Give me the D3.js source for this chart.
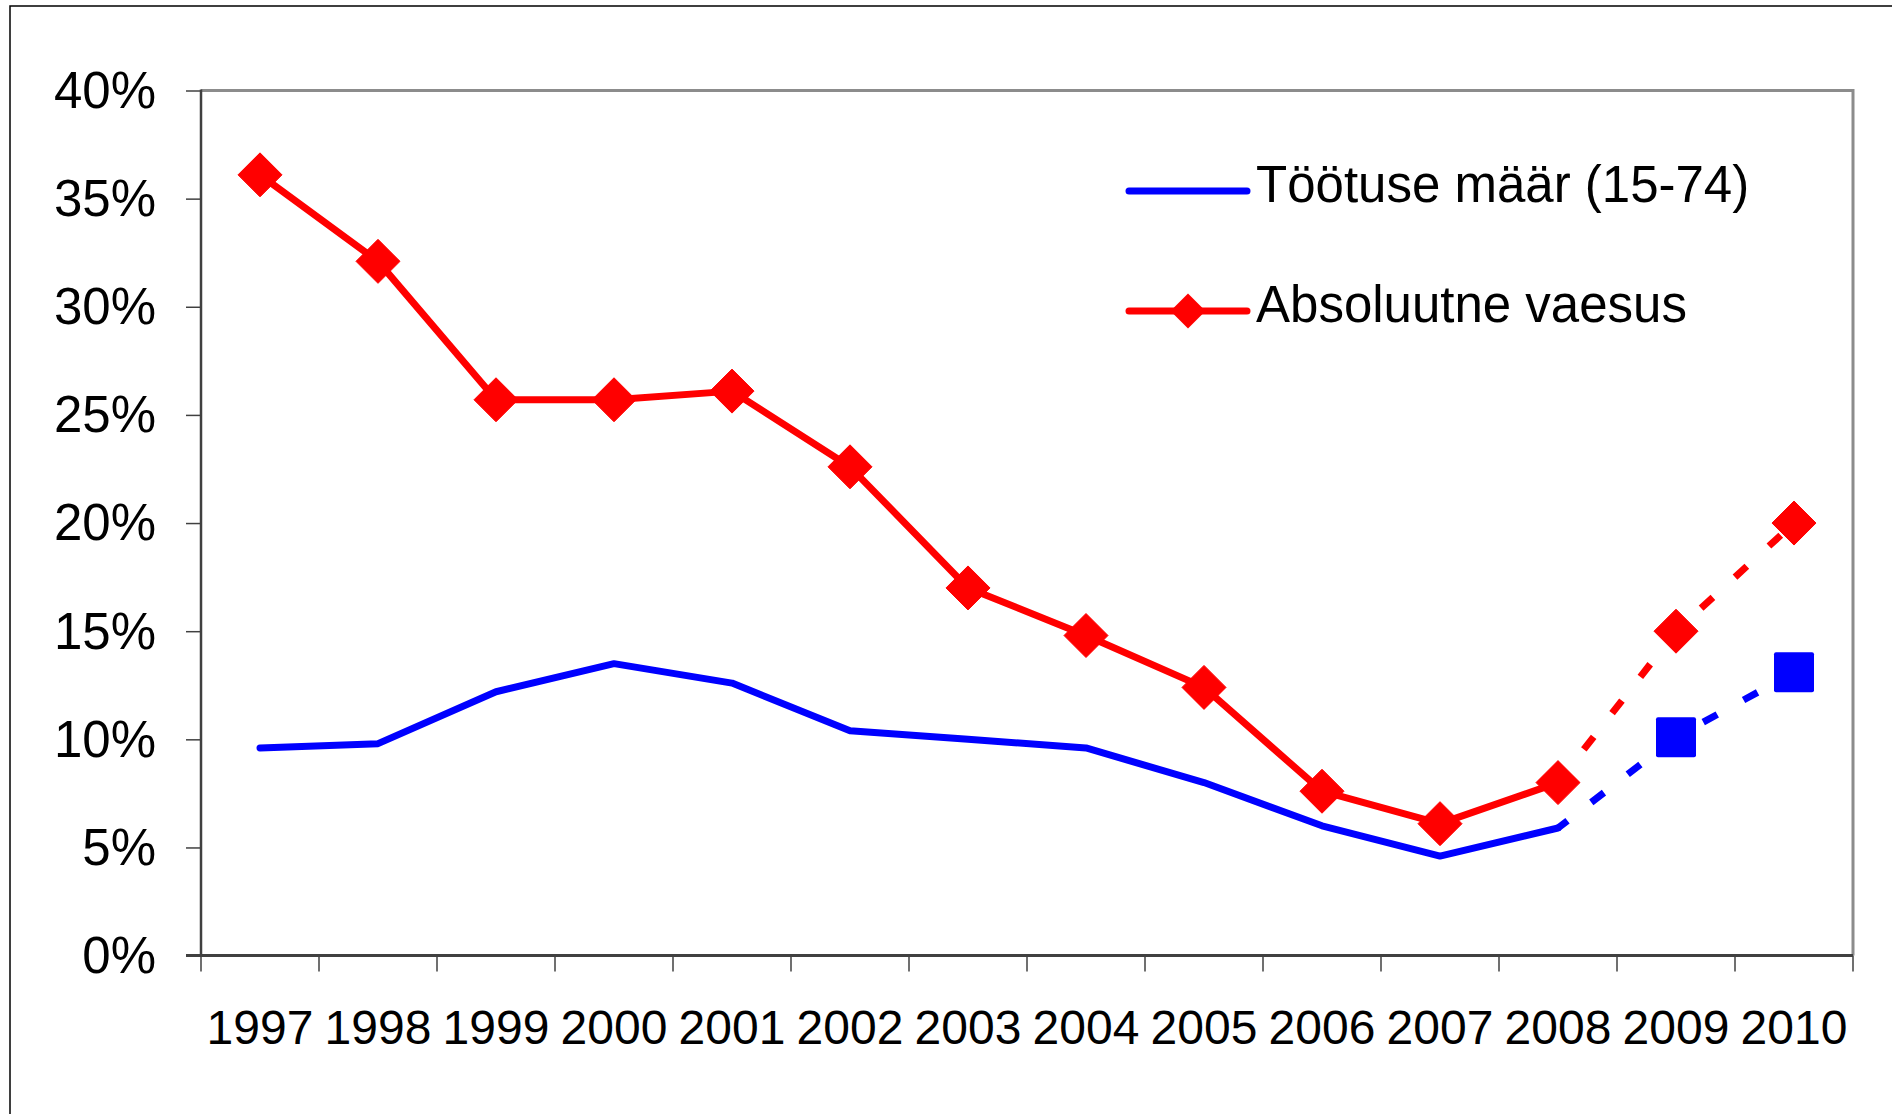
<!DOCTYPE html>
<html>
<head>
  <meta charset="utf-8">
  <script src="https://d3js.org/d3.v7.min.js"></script>
  <style>
    body {
      margin: 0;
      background-color: #ffffff;
      font-family: "Liberation Sans", Arial, sans-serif;
    }
  </style>
</head>
<body>
  <script type="text/javascript">
    // chart values
    var years = [1997, 1998, 1999, 2000, 2001, 2002, 2003, 2004, 2005, 2006, 2007, 2008, 2009, 2010];
    var unemployment = [9.6, 9.8, 12.2, 13.5, 12.6, 10.4, 10.0, 9.6, 8.0, 6.0, 4.6, 5.9, 10.1, 13.1];
    var poverty = [36.1, 32.1, 25.7, 25.7, 26.1, 22.6, 17.0, 14.8, 12.4, 7.6, 6.1, 8.0, 15.0, 20.0];
    var forecastFrom = 2008;   // from this year on the lines are dashed (prognoos)
    var yTicks = [0, 5, 10, 15, 20, 25, 30, 35, 40];
    var seriesNames = ["Töötuse määr (15-74)", "Absoluutne vaesus"];

    var width = 1892,
        height = 1114;
    var plot = {left: 201, right: 1853, top: 90.5, bottom: 955.6};

    var svg = d3.select("body")
        .append("svg")
        .attr("width", width)
        .attr("height", height);

    // outer chart border (only top and left fall inside the picture)
    svg.append("rect")
        .attr("x", 10)
        .attr("y", 6)
        .attr("width", width)
        .attr("height", height)
        .style("fill", "none")
        .style("stroke", "#000")
        .style("stroke-width", 1.5);

    var x = d3.scaleBand()
        .domain(years)
        .range([plot.left, plot.right])
        .padding(0);

    var y = d3.scaleLinear()
        .domain([0, 40])
        .range([plot.bottom, plot.top]);

    var cx = function (d) { return x(d.year) + x.bandwidth() / 2; };
    var cy = function (d) { return y(d.value); };

    // plot area frame, grey on top and right
    svg.append("path")
        .attr("d", "M" + plot.left + "," + plot.top + "H" + plot.right + "V" + plot.bottom)
        .style("fill", "none")
        .style("stroke", "#8c8c8c")
        .style("stroke-width", 3);

    // y axis
    var yAxis = d3.axisLeft(y)
        .tickValues(yTicks)
        .tickFormat(function (d) { return d + "%"; })
        .tickSize(15)
        .tickPadding(30);

    var gy = svg.append("g")
        .attr("transform", "translate(" + plot.left + ",0)")
        .call(yAxis);
    gy.select(".domain").remove();
    gy.selectAll("line").style("stroke", "#404040").style("stroke-width", 1.5);
    gy.selectAll("text")
        .style("font-family", "'Liberation Sans', Arial, sans-serif")
        .style("font-size", "51px")
        .style("fill", "#000")
        .attr("dy", "0.33em");

    svg.append("line")
        .attr("x1", plot.left).attr("x2", plot.left)
        .attr("y1", plot.top - 1).attr("y2", plot.bottom)
        .style("stroke", "#404040")
        .style("stroke-width", 2.5);

    // x axis: tick marks on the category boundaries, labels in the middle
    var bounds = years.map(function (d) { return x(d); }).concat([plot.right]);
    svg.selectAll(".xtick")
        .data(bounds)
        .enter()
        .append("line")
        .attr("class", "xtick")
        .attr("x1", function (d) { return d; })
        .attr("x2", function (d) { return d; })
        .attr("y1", plot.bottom)
        .attr("y2", plot.bottom + 16)
        .style("stroke", "#404040")
        .style("stroke-width", 1.5);

    svg.append("line")
        .attr("x1", plot.left - 15).attr("x2", plot.right)
        .attr("y1", plot.bottom).attr("y2", plot.bottom)
        .style("stroke", "#404040")
        .style("stroke-width", 3);

    svg.selectAll(".xlabel")
        .data(years)
        .enter()
        .append("text")
        .attr("class", "xlabel")
        .attr("x", function (d) { return x(d) + x.bandwidth() / 2; })
        .attr("y", 1044)
        .attr("text-anchor", "middle")
        .style("font-size", "48px")
        .text(function (d) { return d; });

    // build the series
    var blue = years.map(function (d, i) { return {year: d, value: unemployment[i]}; });
    var red = years.map(function (d, i) { return {year: d, value: poverty[i]}; });

    var line = d3.line().x(cx).y(cy);

    function drawSeries(data, color) {
        var solid = data.filter(function (d) { return d.year <= forecastFrom; });
        var dashed = data.filter(function (d) { return d.year >= forecastFrom; });
        svg.append("path")
            .datum(solid)
            .attr("d", line)
            .style("fill", "none")
            .style("stroke", color)
            .style("stroke-width", 7)
            .style("stroke-linejoin", "round")
            .style("stroke-linecap", "round");
        svg.append("path")
            .datum(dashed)
            .attr("d", line)
            .style("fill", "none")
            .style("stroke", color)
            .style("stroke-width", 7)
            .style("stroke-dasharray", "16 30")
            .style("stroke-dashoffset", 4);
    }

    drawSeries(blue, "#0000ff");
    drawSeries(red, "#ff0000");

    // blue squares only on the forecast years
    svg.selectAll(".sq")
        .data(blue.filter(function (d) { return d.year > forecastFrom; }))
        .enter()
        .append("rect")
        .attr("class", "sq")
        .attr("x", function (d) { return cx(d) - 20; })
        .attr("y", function (d) { return cy(d) - 20; })
        .attr("width", 40)
        .attr("height", 40)
        .attr("rx", 2)
        .style("fill", "#0000ff");

    var diamond = function (px, py, r) {
        return "M" + px + "," + (py - r) + "L" + (px + r) + "," + py +
            "L" + px + "," + (py + r) + "L" + (px - r) + "," + py + "Z";
    };

    svg.selectAll(".dm")
        .data(red)
        .enter()
        .append("path")
        .attr("class", "dm")
        .attr("d", function (d) { return diamond(cx(d), cy(d), 22); })
        .style("fill", "#ff0000")
        .style("stroke", "#ff0000")
        .style("stroke-width", 1)
        .style("stroke-linejoin", "round");

    // legend
    var legend = svg.append("g");
    var legendY = [191, 311];
    var legendColors = ["#0000ff", "#ff0000"];

    legend.selectAll("line")
        .data(seriesNames)
        .enter()
        .append("line")
        .attr("x1", 1129)
        .attr("x2", 1247)
        .attr("y1", function (d, i) { return legendY[i]; })
        .attr("y2", function (d, i) { return legendY[i]; })
        .style("stroke", function (d, i) { return legendColors[i]; })
        .style("stroke-width", 7)
        .style("stroke-linecap", "round");

    legend.append("path")
        .attr("d", diamond(1188, legendY[1], 17.5))
        .style("fill", "#ff0000");

    legend.selectAll("text")
        .data(seriesNames)
        .enter()
        .append("text")
        .attr("x", 1256)
        .attr("y", function (d, i) { return legendY[i] + 11; })
        .style("font-size", "51px")
        .text(function (d) { return d; });
  </script>
</body>
</html>
